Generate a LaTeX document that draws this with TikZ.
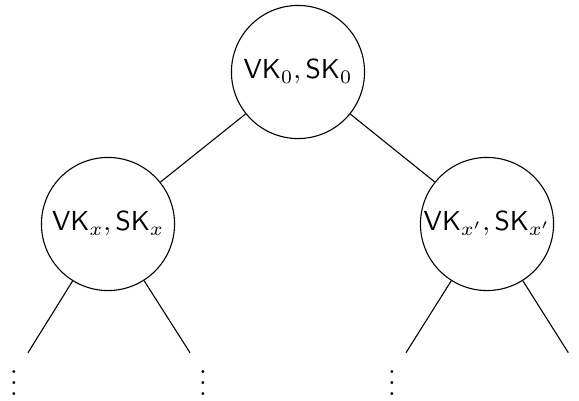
\documentclass[tikz,border=0pt]{standalone}
\begin{document}
\begin{tikzpicture}[x=0.3636pt,y=-0.3636pt,
  keynode/.style={circle,draw,minimum size=48.4pt,inner sep=0pt},
  dotsnode/.style={anchor=base,inner sep=0pt}]
\useasboundingbox (0,0) rectangle (579,400);
\node[keynode] (root) at (298,72) {$\mathsf{VK}_0,\mathsf{SK}_0$};
\node[keynode] (l) at (108,224) {$\mathsf{VK}_x,\mathsf{SK}_x$};
\node[keynode] (r) at (487,224) {$\mathsf{VK}_{x'},\mathsf{SK}_{x'}$};
\coordinate (ll) at (28,352.7);
\coordinate (lr) at (190,352.7);
\coordinate (rl) at (406,352.7);
\coordinate (rr) at (568.3,352.7);
\draw (root) -- (l);
\draw (root) -- (r);
\draw (l) -- (ll);
\draw (l) -- (lr);
\draw (r) -- (rl);
\draw (r) -- (rr);
\node[dotsnode] (d1) at (14,395) {$\vdots$};
\node[dotsnode] (d2) at (203,395) {$\vdots$};
\node[dotsnode] (d3) at (392,395) {$\vdots$};
\end{tikzpicture}
\end{document}
